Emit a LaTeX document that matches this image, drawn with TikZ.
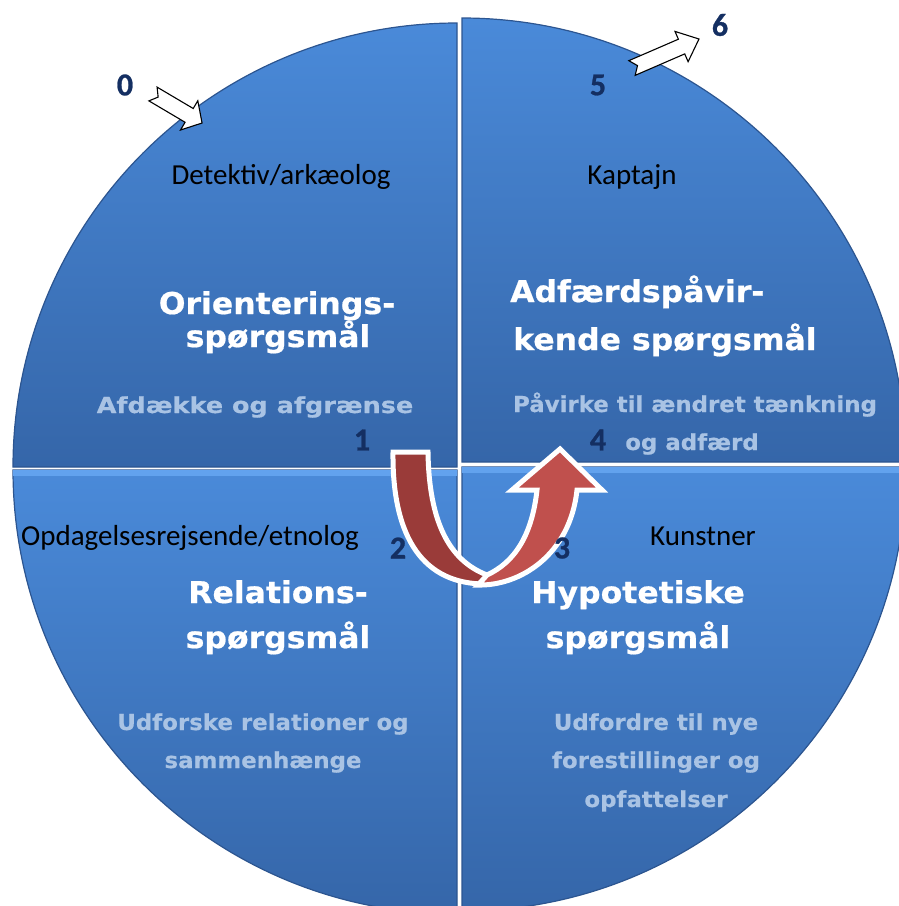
\documentclass[tikz,border=0pt]{standalone}
\usepackage{fontspec}
\setmainfont{Carlito}
\newfontfamily\headfont[FakeStretch=1.05,FakeBold=0.6]{DejaVu Sans}
\newfontfamily\subfont[FakeStretch=1.04,FakeBold=0.4]{DejaVu Sans}
\newfontfamily\subwidefont[FakeStretch=1.16,FakeBold=0.4]{DejaVu Sans}
\newfontfamily\numfont[FakeBold=0.8]{Carlito}
\usepackage{tikz}
\usetikzlibrary{calc}
\definecolor{quadtop}{HTML}{4A8AD9}
\definecolor{quadbot}{HTML}{3566A9}
\definecolor{quadedge}{HTML}{2C5590}
\definecolor{rim}{HTML}{62A2EE}
\definecolor{navy}{HTML}{142F62}
\definecolor{soft}{HTML}{A9C3E4}
\definecolor{darkred}{HTML}{9A3B39}
\definecolor{lightred}{HTML}{C0504D}
\tikzset{
  quad/.style={top color=quadtop, bottom color=quadbot, draw=quadedge, line width=1.2pt},
  rimline/.style={draw=rim, line width=6pt},
  headtxt/.style={text=white, font=\headfont\bfseries\fontsize{30}{30}\selectfont, anchor=base, inner sep=0pt},
  subtxt/.style={text=soft, font=\subfont\bfseries\fontsize{22}{22}\selectfont, anchor=base, inner sep=0pt},
  roletxt/.style={text=black, font=\fontsize{29}{29}\selectfont, anchor=base, inner sep=0pt},
  numtxt/.style={text=navy, font=\numfont\bfseries\fontsize{32}{32}\selectfont, inner sep=0pt},
  blockarrow/.style={fill=white, draw=black, line width=1.1pt, line join=miter},
  uarrow/.style={draw=white, line width=5pt, line join=miter},
}

\begin{document}
\begin{tikzpicture}[x=1pt,y=-1pt]
  \useasboundingbox (0,0) rectangle (899,906);
  \clip (0,0) rectangle (899,906);
  \coordinate (TL) at (457,467);
  \coordinate (TR) at (462,462);
  \coordinate (BL) at (457,470);
  \coordinate (BR) at (462,467);
  % quadrants
  \draw[quad] (TL) -- ++(180:444) arc (180:270:444) -- cycle;
  \draw[quad] (TR) -- ++(270:444) arc (270:360:444) -- cycle;
  \draw[quad] (BL) -- ++(90:444) arc (90:180:444) -- cycle;
  \draw[quad] (BR) -- ++(0:444) arc (0:90:444) -- cycle;
  % light top edge of the lower quadrants
  \begin{scope}
    \clip (BL) -- ++(90:444) arc (90:180:444) -- cycle;
    \draw[rimline] ($(BL)+(-450,3)$) -- ($(BL)+(0,3)$);
  \end{scope}
  \begin{scope}
    \clip (BR) -- ++(0:444) arc (0:90:444) -- cycle;
    \draw[rimline] ($(BR)+(0,3)$) -- ($(BR)+(450,3)$);
  \end{scope}

  % block arrows 0 and 5-6
  \begin{scope}[shift={(153,94)}, rotate=-30.6]
    \draw[blockarrow] (0,-8) -- (42,-8) -- (42,-17) -- (57,0) -- (42,17) -- (42,8) -- (0,8) -- (6,0) -- cycle;
  \end{scope}
  \begin{scope}[shift={(632,68)}, rotate=23.4]
    \draw[blockarrow] (0,-8) -- (54,-8) -- (54,-16.5) -- (73,0) -- (54,16.5) -- (54,8) -- (0,8) -- (6,0) -- cycle;
  \end{scope}

  % u-turn arrow
  \filldraw[uarrow, fill=darkred] (393,452) -- (428,452)
    .. controls (429,520) and (448,560) .. (487,575) -- (485,584)
    .. controls (425,584) and (392,540) .. (393,452) -- cycle;
  \filldraw[uarrow, fill=lightred] (478,585)
    .. controls (520,586) and (570,555) .. (577,490) -- (602,490) -- (560,449) -- (512,490) -- (537,490)
    .. controls (532,535) and (515,562) .. (487,575) -- cycle;

  % roles
  \node[roletxt] (detektiv) at (281,184) {Detektiv/arkæolog};
  \node[roletxt] (kaptajn) at (632,184) {Kaptajn};
  \node[roletxt] (opdager) at (190,545) {Opdagelsesrejsende/etnolog};
  \node[roletxt] (kunstner) at (703,545) {Kunstner};

  % question types
  \node[headtxt] (orient1) at (277,314) {Orienterings-};
  \node[headtxt] (orient2) at (278,347) {spørgsmål};
  \node[headtxt, anchor=base west] (adfaerd1) at (510,302) {Adfærdspåvir-};
  \node[headtxt, anchor=base west] (adfaerd2) at (513,350) {kende spørgsmål};
  \node[headtxt] (relation1) at (278,603) {Relations-};
  \node[headtxt] (relation2) at (278,648) {spørgsmål};
  \node[headtxt] (hypo1) at (638,603) {Hypotetiske};
  \node[headtxt] (hypo2) at (638,648) {spørgsmål};

  % aims
  \node[subtxt, font=\subwidefont\bfseries\fontsize{22}{22}\selectfont] (afdaekke) at (255,413) {Afdække og afgrænse};
  \node[subtxt] (paavirke1) at (695,412) {Påvirke til ændret tænkning};
  \node[subtxt] (paavirke2) at (692,450) {og adfærd};
  \node[subtxt] (udforske1) at (263,730) {Udforske relationer og};
  \node[subtxt] (udforske2) at (263,768) {sammenhænge};
  \node[subtxt] (udfordre1) at (656,730) {Udfordre til nye};
  \node[subtxt] (udfordre2) at (656,768) {forestillinger og};
  \node[subtxt] (udfordre3) at (656,807) {opfattelser};

  % steps
  \node[numtxt] (n0) at (125,85) {0};
  \node[numtxt] (n1) at (362,440) {1};
  \node[numtxt] (n2) at (398,548) {2};
  \node[numtxt] (n3) at (562,548) {3};
  \node[numtxt] (n4) at (598,440) {4};
  \node[numtxt] (n5) at (598,85) {5};
  \node[numtxt] (n6) at (720,25) {6};
\end{tikzpicture}
\end{document}
